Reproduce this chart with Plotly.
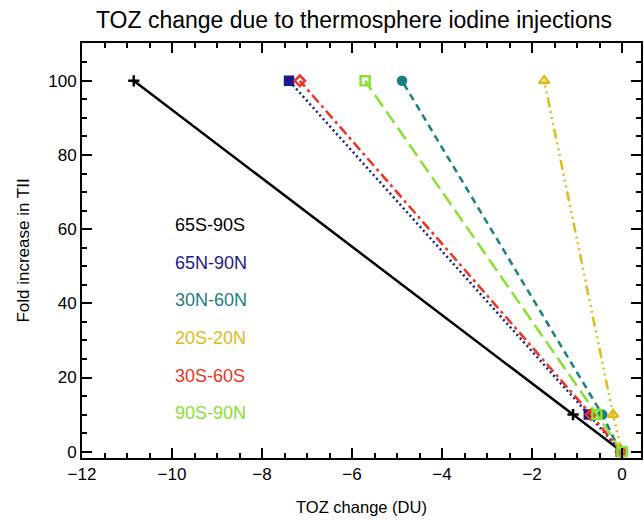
import plotly.graph_objects as go

regions = ["65S-90S", "65N-90N", "30N-60N", "20S-20N", "30S-60S", "90S-90N"]
fold = [0, 10, 100]
toz_65S90S = [0.0, -1.09, -10.85]
toz_65N90N = [-0.03, -0.74, -7.40]
toz_30N60N = [-0.04, -0.44, -4.89]
toz_20S20N = [-0.01, -0.20, -1.73]
toz_30S60S = [-0.02, -0.69, -7.16]
toz_90S90N = [0.0, -0.56, -5.71]

series = [toz_65S90S, toz_65N90N, toz_30N60N, toz_20S20N, toz_30S60S, toz_90S90N]
colors = ["#000000", "#1a1a8c", "#1a8080", "#e0bb1a", "#ee3322", "#88e033"]
dash_custom = ["solid", "2px,3px", "7px,5px", "10px,4px,2px,4px,2px,4px,2px,4px", "10px,4px,3px,4px", "14px,6px"]
symbols = ["cross-thin-open", "square", "circle", "triangle-up-open", "diamond-open", "square-open"]
sizes = [8, 8, 8, 9, 8, 9]

FONT = "Liberation Sans, Arial"
L, R, T, B = 82, 641, 43, 458
XR = [-12, 0.42]
YR = [-1.7, 110.2]

fig = go.Figure()
for name, xs, c, d, s, sz in zip(regions, series, colors, dash_custom, symbols, sizes):
    fig.add_trace(go.Scatter(
        x=xs, y=fold, mode="lines+markers", name=name,
        line=dict(color=c, width=2.5, dash=d),
        marker=dict(symbol=s, size=sz, color=c, line=dict(color=c, width=2.5)),
        showlegend=False, hoverinfo="skip",
    ))

label_y = [225, 263, 300, 338, 376, 413]
for name, c, py in zip(regions, colors, label_y):
    fig.add_annotation(
        x=(173 - L) / (R - L), y=(B - py) / (B - T), xref="paper", yref="paper",
        text=name, showarrow=False,
        font=dict(color=c, size=18, family=FONT),
        xanchor="left", yanchor="middle",
    )

axis_common = dict(
    showgrid=False, zeroline=False, showline=True, linecolor="black", linewidth=2,
    ticks="inside", ticklen=10, tickwidth=2, tickcolor="black",
    tickfont=dict(size=17, family=FONT, color="black"), automargin=False,
)
xminor = dict(dtick=0.5, ticks="inside", ticklen=5, tickwidth=2, tickcolor="black")
yminor = dict(dtick=5, ticks="inside", ticklen=5, tickwidth=2, tickcolor="black")

fig.update_layout(
    xaxis=dict(range=XR, tick0=-12, dtick=2, minor=xminor,
               title=dict(text="TOZ change (DU)", font=dict(size=16.5, family=FONT, color="black"), standoff=18),
               **axis_common),
    yaxis=dict(range=YR, tick0=0, dtick=20, minor=yminor,
               title=dict(text="Fold increase in TII", font=dict(size=17, family=FONT, color="black"), standoff=14),
               **axis_common),
    xaxis2=dict(range=XR, tick0=-12, dtick=2, minor=xminor, overlaying="x", side="top",
                showticklabels=False, **axis_common),
    yaxis2=dict(range=YR, tick0=0, dtick=20, minor=yminor, overlaying="y", side="right",
                showticklabels=False, **axis_common),
)
# invisible trace to activate the mirror axes
fig.add_trace(go.Scatter(x=[XR[0]], y=[YR[0]], xaxis="x2", yaxis="y2", mode="markers",
                         marker=dict(opacity=0), showlegend=False, hoverinfo="skip"))

fig.update_layout(
    width=644, height=522,
    margin=dict(l=L, r=644 - R, t=T, b=522 - B),
    plot_bgcolor="white", paper_bgcolor="white",
    title=dict(text="TOZ change due to thermosphere iodine injections",
               x=354 / 644, xanchor="center", y=1 - 20 / 522, yanchor="middle",
               font=dict(size=23, family=FONT, color="black")),
)
fig.write_html("out.html", config={"displayModeBar": False},
               post_script="document.body.style.margin='0';document.body.style.padding='0';document.body.style.overflow='hidden';")
